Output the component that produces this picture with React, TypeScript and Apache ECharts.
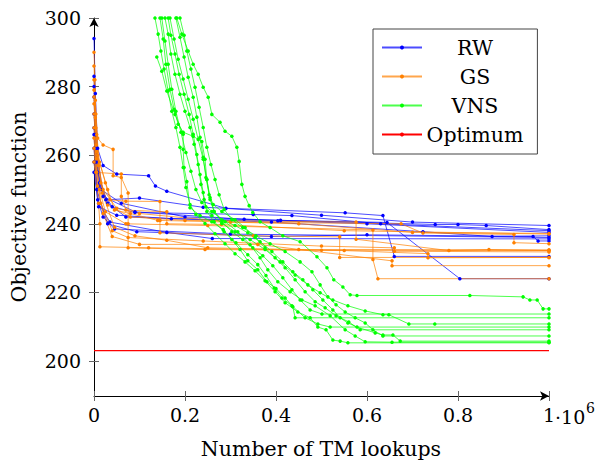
import React, { useEffect, useRef } from "react";
import * as echarts from "echarts";

type Pt = [number, number];

// x values are in units of 10^6 TM lookups
const X_TICKS = [0, 0.2, 0.4, 0.6, 0.8, 1];
const Y_TICKS = [200, 220, 240, 260, 280, 300];
const Y_MIN = 189.8;
const Y_MAX = 300;
const OPTIMUM = 203;
const OPTIMUM_X = [0, 1];

const RW_RUNS: Pt[][] = [
  [[0, 294], [0.003, 278], [0.008, 262], [0.02, 257], [0.05, 254.5], [0.12, 254], [0.135, 251], [0.16, 249.5], [0.29, 244.5], [0.5, 242.5], [0.7, 240.5], [1, 239.5]],
  [[0, 283], [0.004, 266], [0.012, 252], [0.026, 247], [0.1, 247.5], [0.24, 244.8], [0.552, 243.2], [0.635, 242.4], [0.66, 230.5], [1, 230.5]],
  [[0, 277], [0.005, 258], [0.015, 250], [0.06, 246], [0.2, 242], [0.41, 241], [0.644, 240.4], [0.804, 224], [1, 224]],
  [[0, 280], [0.006, 262], [0.02, 248], [0.09, 243.5], [0.33, 241.3], [0.75, 239.8], [0.8, 239.8], [0.862, 239.5], [1, 238.3]],
  [[0, 272], [0.008, 255], [0.03, 246], [0.07, 242], [0.39, 240.5], [0.723, 237.7], [0.875, 236.3], [1, 236.5]],
  [[0, 266], [0.006, 250], [0.03, 240], [0.094, 237.7], [0.39, 236.3], [0.6, 236.8], [0.965, 236.3], [0.976, 235], [1, 235]],
  [[0, 262], [0.008, 247], [0.02, 242], [0.045, 238.5], [0.3, 237], [1, 236]],
  [[0, 258], [0.01, 246], [0.035, 240.5], [0.16, 237.5], [0.26, 235.7], [1, 235.6]],
  [[0, 255], [0.01, 245], [0.05, 242.5], [0.17, 241.5], [0.404, 240.9], [0.6, 240], [1, 237.5]],
  [[0, 268], [0.01, 251], [0.04, 245], [0.09, 243.3], [0.35, 242.7], [0.435, 242.4], [0.63, 240], [1, 238]],
];

const GS_RUNS: Pt[][] = [
  [[0, 290], [0.002, 282], [0.004, 272], [0.008, 265], [0.02, 263], [0.042, 261.7], [0.042, 254], [0.06, 253.5], [0.075, 249], [0.075, 240], [0.075, 233], [0.244, 232.5], [0.5, 232.3], [1, 232.2]],
  [[0, 286], [0.003, 276], [0.006, 266], [0.012, 258], [0.025, 252], [0.035, 247], [0.07, 246.6], [0.145, 246.5], [0.145, 241], [0.145, 237.4], [0.35, 236.5], [0.54, 236.2], [0.54, 230.2], [1, 230.2]],
  [[0, 279], [0.004, 268], [0.01, 257], [0.02, 250], [0.05, 244.5], [0.1, 243], [0.3, 240.5], [0.675, 240], [0.723, 237.3], [0.923, 236.9], [0.923, 234.5], [1, 234.2]],
  [[0, 277], [0.005, 263], [0.015, 252], [0.03, 245.5], [0.08, 242], [0.2, 241], [0.576, 240.5], [0.576, 235.5], [0.78, 232.2], [0.868, 232.5], [1, 232.2]],
  [[0, 272], [0.005, 259], [0.012, 250], [0.025, 243.5], [0.07, 240], [0.25, 239.5], [0.613, 238.2], [0.613, 229.6], [0.624, 224], [1, 224]],
  [[0, 268], [0.006, 255], [0.015, 246], [0.04, 238], [0.075, 236], [0.24, 235], [0.5, 233.5], [0.66, 233], [0.66, 232], [1, 231.8]],
  [[0, 265], [0.008, 251], [0.02, 243], [0.04, 236.3], [0.1, 234], [0.36, 234], [0.655, 229.2], [0.655, 227.8], [1, 227.8]],
  [[0, 282], [0.003, 271], [0.008, 260], [0.03, 250], [0.045, 244], [0.08, 243], [0.14, 241], [0.45, 240], [0.7, 237.5], [1, 237.2]],
  [[0, 258], [0.01, 246], [0.013, 240], [0.013, 233.3], [0.12, 233], [0.55, 232.2], [0.734, 231.3], [0.734, 230.1], [1, 230.2]],
  [[0, 275], [0.006, 261], [0.018, 249], [0.045, 239], [0.09, 236.5], [0.16, 235.2], [0.25, 233], [0.45, 232.5], [1, 232.4]],
  [[0, 262], [0.004, 255], [0.06, 254.5], [0.06, 248], [0.07, 244], [0.16, 243.5], [0.16, 240], [0.28, 239.8], [0.55, 238], [1, 237]],
];

const VNS_RUNS: Pt[][] = [
  [[0.134, 300], [0.141, 295.3], [0.147, 290.4], [0.154, 285.1], [0.163, 278.7], [0.171, 272.8], [0.18, 268.1], [0.189, 262.3], [0.196, 256.4], [0.202, 250.6], [0.211, 245.6], [0.224, 242.7], [0.244, 240.1], [0.266, 237.1], [0.288, 234.2], [0.31, 231.3], [0.332, 228.9], [0.354, 226.3], [0.376, 223.4], [0.398, 220.2], [0.42, 217.0], [0.448, 214.3], [0.475, 212.6], [0.492, 209.9], [0.51, 209.1], [0.525, 206.1], [0.541, 205.8], [0.558, 205.3], [1, 205.3]],
  [[0.138, 288.6], [0.149, 284.5], [0.16, 278.7], [0.178, 271.9], [0.196, 266.1], [0.196, 261.7], [0.198, 256.4], [0.204, 252.3], [0.211, 244.7], [0.233, 242.4], [0.259, 240.6], [0.284, 238.3], [0.303, 235.4], [0.321, 232.5], [0.338, 229.2], [0.36, 226.6], [0.38, 223.1], [0.4, 221.1], [0.42, 218.4], [0.437, 215.8], [0.442, 212.6], [1, 212.6]],
  [[0.145, 300], [0.152, 293.9], [0.158, 286.5], [0.167, 279.2], [0.176, 273.4], [0.185, 269.0], [0.196, 266.7], [0.218, 265.5], [0.237, 264.0], [0.244, 258.8], [0.248, 252.9], [0.255, 247.7], [0.264, 243.6], [0.281, 240.6], [0.303, 237.7], [0.327, 235.4], [0.349, 233.0], [0.371, 230.7], [0.393, 227.8], [0.415, 224.3], [0.435, 220.8], [0.453, 217.8], [0.475, 214.9], [0.501, 213.7], [1, 213.7]],
  [[0.182, 300], [0.193, 295.3], [0.207, 290.4], [0.218, 286.5], [0.229, 283.6], [0.24, 279.8], [0.251, 276.9], [0.259, 271.9], [0.277, 269.6], [0.288, 267.0], [0.303, 265.5], [0.314, 262.3], [0.319, 258.2], [0.325, 251.5], [0.332, 248.0], [0.341, 245.3], [0.349, 243.3], [0.365, 240.6], [0.387, 238.9], [0.415, 236.5], [0.453, 234.8], [0.49, 230.4], [0.512, 227.2], [0.527, 223.7], [0.547, 221.6], [0.563, 219.3], [0.578, 219.1], [0.826, 219.1], [0.943, 218.7], [0.958, 217.8], [0.974, 217.8], [0.987, 215.2], [1, 215.2]],
  [[0.156, 300], [0.163, 295.3], [0.169, 289.5], [0.178, 283.6], [0.189, 277.8], [0.2, 272.8], [0.211, 268.1], [0.22, 263.2], [0.229, 257.3], [0.235, 251.5], [0.242, 247.1], [0.248, 243.6], [0.264, 240.6], [0.286, 237.7], [0.312, 234.5], [0.338, 231.0], [0.36, 228.1], [0.378, 224.9], [0.396, 221.3], [0.413, 218.4], [0.435, 216.1], [0.464, 212.6], [0.492, 210.8], [0.519, 209.9], [1, 209.9]],
  [[0.167, 300], [0.176, 293.9], [0.185, 288.0], [0.196, 282.2], [0.207, 276.3], [0.218, 270.5], [0.229, 264.6], [0.24, 258.8], [0.248, 252.9], [0.255, 247.1], [0.264, 243.6], [0.281, 241.2], [0.31, 239.5], [0.338, 237.4], [0.365, 234.8], [0.391, 231.9], [0.415, 228.9], [0.437, 226.0], [0.459, 223.7], [0.481, 220.8], [0.503, 217.8], [0.525, 214.9], [0.541, 212.6], [0.558, 211.1], [0.578, 209.9], [0.618, 208.2], [0.635, 207.6], [0.657, 207.6], [0.673, 205.8], [1, 205.8]],
  [[0.18, 300], [0.189, 294.4], [0.198, 288.6], [0.207, 282.7], [0.218, 276.9], [0.226, 271.1], [0.233, 265.2], [0.24, 259.4], [0.246, 253.5], [0.253, 248.5], [0.262, 245.6], [0.281, 243.6], [0.31, 241.2], [0.332, 238.9], [0.354, 236.0], [0.376, 233.0], [0.398, 230.1], [0.42, 227.2], [0.442, 223.7], [0.464, 220.2], [0.486, 217.3], [0.508, 215.5], [0.532, 213.2], [0.56, 211.4], [0.585, 209.1], [1, 209.1]],
  [[0.189, 300], [0.198, 295.0], [0.204, 290.4], [0.213, 285.1], [0.222, 279.8], [0.231, 274.0], [0.24, 268.1], [0.248, 262.3], [0.257, 257.3], [0.266, 252.9], [0.275, 248.5], [0.286, 244.2], [0.303, 241.2], [0.327, 238.9], [0.356, 236.5], [0.387, 234.2], [0.42, 231.9], [0.453, 228.9], [0.479, 226.0], [0.497, 222.2], [0.514, 218.7], [0.532, 216.4], [0.552, 214.3], [0.574, 212.6], [0.596, 211.1], [0.613, 209.1], [0.635, 207.3], [1, 207.3]],
  [[0.149, 300], [0.156, 293.3], [0.163, 286.5], [0.171, 279.2], [0.18, 272.8], [0.191, 266.7], [0.202, 260.8], [0.213, 255.3], [0.224, 250.0], [0.237, 246.2], [0.259, 243.6], [0.288, 240.6], [0.316, 237.7], [0.343, 233.9], [0.365, 230.1], [0.382, 226.6], [0.404, 223.1], [0.431, 220.2], [0.457, 217.8], [0.486, 216.1], [0.519, 213.2], [0.552, 209.1], [0.574, 207.3], [0.596, 205.6], [0.655, 205.5], [1, 205.5]],
  [[0.163, 300], [0.169, 295.0], [0.178, 289.5], [0.187, 283.6], [0.198, 277.8], [0.209, 271.9], [0.218, 266.1], [0.226, 260.2], [0.233, 254.4], [0.24, 249.1], [0.246, 245.0], [0.259, 242.4], [0.281, 240.1], [0.31, 237.7], [0.343, 235.4], [0.376, 232.5], [0.409, 228.9], [0.442, 225.1], [0.47, 222.2], [0.497, 219.9], [0.525, 217.8], [0.558, 216.1], [0.596, 214.6], [0.635, 213.5], [0.648, 213.5], [0.692, 210.8], [0.749, 210.8], [1, 210.8]],
];

const LEGEND_NAMES = ["RW", "GS", "VNS", "Optimum"];
const COLORS = { RW: "#0000ff", GS: "#ff8000", VNS: "#00ff00", Optimum: "#ff0000" };
const X_NAME = "Number of TM lookups";
const Y_NAME = "Objective function";

const FONT = "DejaVu Serif";
const TICK_FS = 19;
const NAME_FS = 20.5;

export default function App() {
  const ref = useRef<HTMLDivElement>(null);
  useEffect(() => {
    document.body.style.margin = "0";
    const chart = echarts.init(ref.current!, null, { renderer: "svg" });
    const mk = (name: string, color: string, runs: Pt[][]) =>
      runs.map((run) => ({
        name,
        type: "line",
        data: run,
        symbol: "circle",
        symbolSize: 3.5,
        showAllSymbol: true,
        lineStyle: { color, width: 1, opacity: 0.7 },
        itemStyle: { color },
        emphasis: { disabled: true },
        silent: true,
        clip: true,
      }));
    const tickStyle = { color: "#666", width: 1 };
    const txt = (text: string, x: number, y: number, rotation = 0, align = "center", size = NAME_FS) => ({
      type: "text",
      x,
      y,
      rotation,
      silent: true,
      style: { text, fill: "#000", fontFamily: FONT, fontSize: size, align, verticalAlign: "middle" },
    });
    const option: any = {
      animation: false,
      textStyle: { fontFamily: FONT },
      grid: { left: 94, top: 18, width: 455, height: 378 },
      legend: {
        data: LEGEND_NAMES,
        orient: "vertical",
        left: 373,
        top: 29,
        padding: [8, 14, 9, 8],
        itemWidth: 40,
        itemHeight: 5,
        itemGap: 8,
        backgroundColor: "#fff",
        borderColor: "#444",
        borderWidth: 1,
        borderRadius: 0,
        selectedMode: false,
        formatter: (n: string) => `{t|${n}}`,
        textStyle: {
          fontFamily: FONT,
          fontSize: NAME_FS,
          rich: { t: { fontFamily: FONT, fontSize: NAME_FS, lineHeight: 24, color: "#000", width: 96, align: "center" } },
        },
      },
      xAxis: [
        {
          type: "value",
          min: 0,
          max: 1,
          interval: 0.2,
          position: "bottom",
          axisLine: { show: true, onZero: false, lineStyle: { color: "#000", width: 1 }, symbol: ["none", "arrow"], symbolSize: [7, 9] },
          axisTick: { show: true, length: 5, lineStyle: tickStyle },
          axisLabel: {
            margin: 9,
            color: "#000",
            fontFamily: FONT,
            fontSize: TICK_FS,
            formatter: (v: number) => (v === 0 ? "0" : v === 1 ? "1" : v.toFixed(1)),
          },
          splitLine: { show: false },
        },
        {
          type: "value",
          min: 0,
          max: 1,
          interval: 0.2,
          position: "bottom",
          axisLine: { show: false, onZero: false },
          axisTick: { show: true, inside: true, length: 5, lineStyle: tickStyle },
          axisLabel: { show: false },
          splitLine: { show: false },
        },
      ],
      yAxis: [
        {
          type: "value",
          min: Y_MIN,
          max: Y_MAX,
          position: "left",
          axisLine: { show: true, onZero: false, lineStyle: { color: "#000", width: 1 }, symbol: ["none", "arrow"], symbolSize: [7, 9] },
          axisTick: { show: true, length: 5, lineStyle: tickStyle, customValues: Y_TICKS },
          axisLabel: {
            margin: 13,
            color: "#000",
            fontFamily: FONT,
            fontSize: TICK_FS,
            customValues: Y_TICKS,
          },
          splitLine: { show: false },
        },
        {
          type: "value",
          min: Y_MIN,
          max: Y_MAX,
          position: "left",
          axisLine: { show: false, onZero: false },
          axisTick: { show: true, inside: true, length: 5, lineStyle: tickStyle, customValues: Y_TICKS },
          axisLabel: { show: false, customValues: Y_TICKS },
          splitLine: { show: false },
        },
      ],
      graphic: [
        txt(X_NAME, 321, 449),
        txt(Y_NAME, 19, 207, Math.PI / 2),
        txt("·10", 555, 417, 0, "left", TICK_FS),
        txt("6", 586, 408, 0, "left", 14),
      ],
      series: [
        ...mk("RW", COLORS.RW, RW_RUNS),
        ...mk("GS", COLORS.GS, GS_RUNS),
        ...mk("VNS", COLORS.VNS, VNS_RUNS),
        {
          name: "Optimum",
          type: "line",
          data: OPTIMUM_X.map((x) => [x, OPTIMUM]),
          symbol: "none",
          lineStyle: { color: COLORS.Optimum, width: 1.3 },
          itemStyle: { color: COLORS.Optimum },
          silent: true,
        },
      ],
    };
    chart.setOption(option);
    return () => chart.dispose();
  }, []);
  return <div ref={ref} style={{ width: 599, height: 462 }} />;
}
